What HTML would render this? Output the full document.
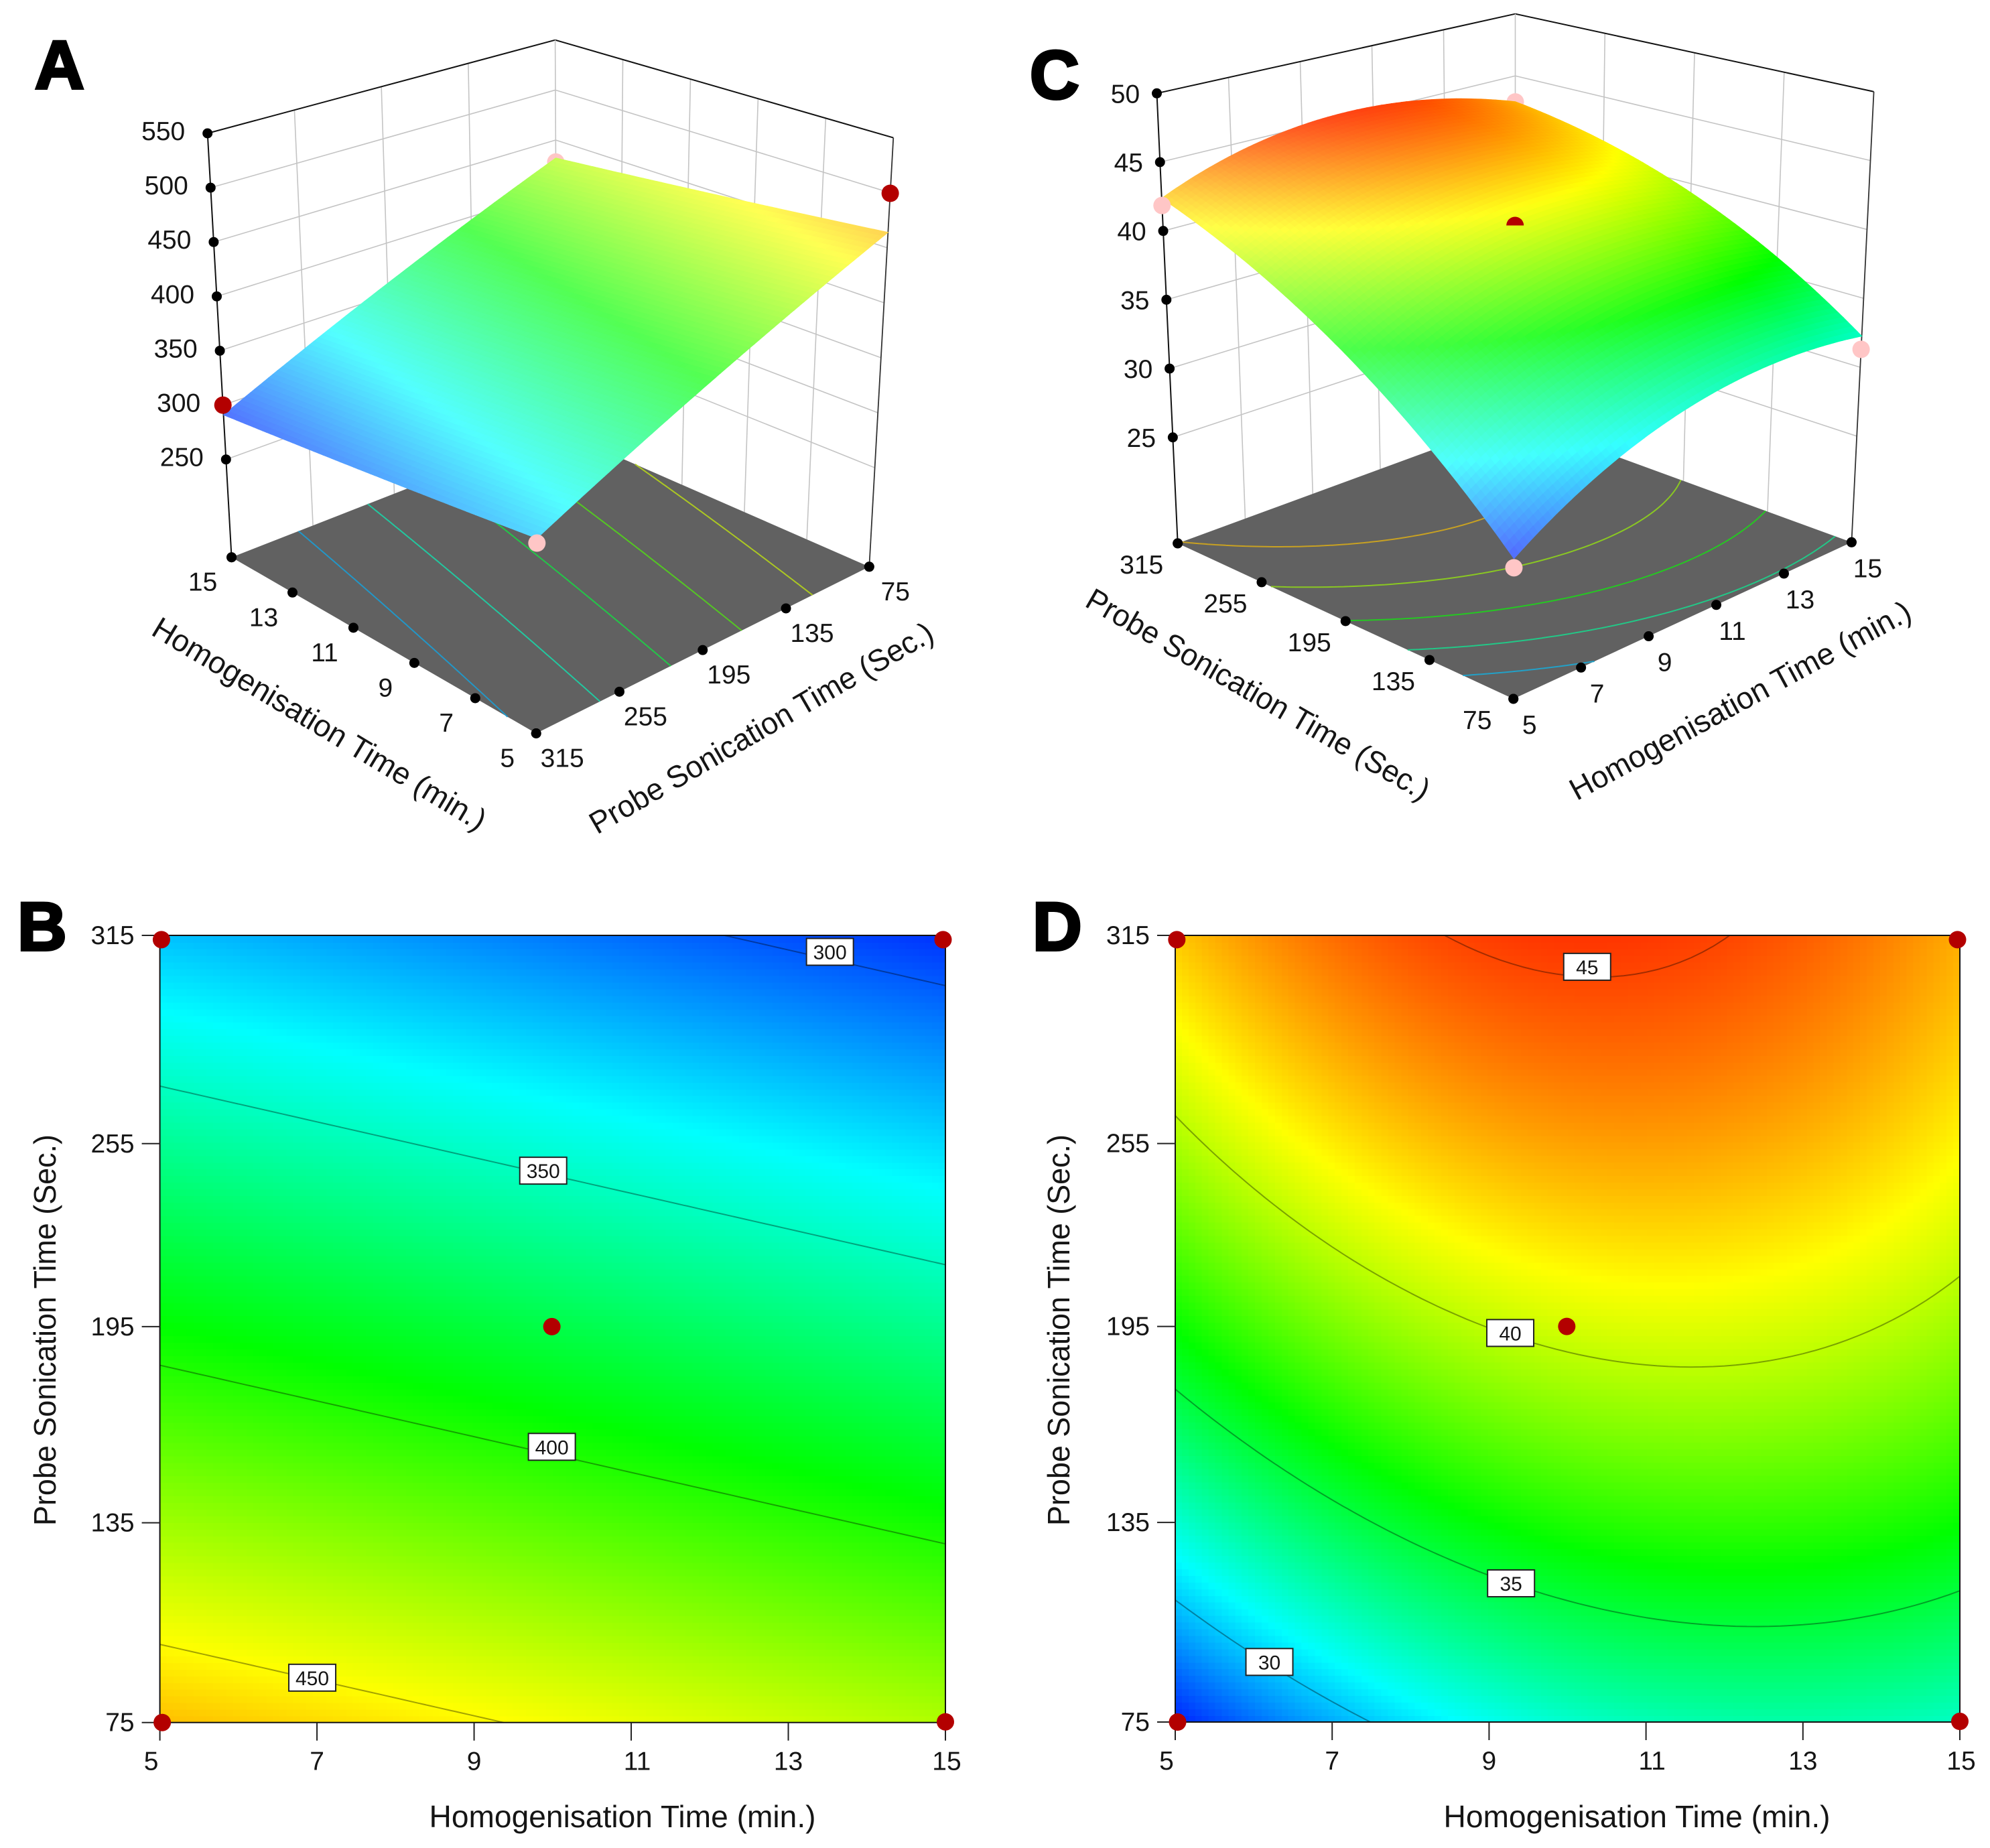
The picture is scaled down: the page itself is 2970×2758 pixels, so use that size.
<!DOCTYPE html>
<html lang="en">
<head>
<meta charset="utf-8">
<title>Response surface and contour plots</title>
<style>
html,body{margin:0;padding:0;background:#fff}
svg{display:block}
text{font-family:"Liberation Sans",Arial,sans-serif;fill:#151515}
.title{font-size:46px}
.tick{font-size:39px}
.letter{font-size:102px;font-weight:bold;fill:#000;stroke:#000;stroke-width:4px}
</style>
</head>
<body>
<svg id="figure" xmlns="http://www.w3.org/2000/svg" width="2970" height="2758" viewBox="0 0 2970 2758">
  <rect x="0" y="0" width="2970" height="2758" fill="#fff"/>
  <g id="panelA"></g>
  <g id="panelB"></g>
  <g id="panelC"></g>
  <g id="panelD"></g>

  <text class="letter" x="52" y="132">A</text>
  <text class="letter" x="26" y="1418">B</text>
  <text class="letter" x="1537" y="147">C</text>
  <text class="letter" x="1541" y="1418">D</text>

  <text class="title" text-anchor="middle" textLength="572" lengthAdjust="spacingAndGlyphs" transform="translate(477,1080) rotate(31)" dy="16">Homogenisation Time (min.)</text>
  <text class="title" text-anchor="middle" textLength="584" lengthAdjust="spacingAndGlyphs" transform="translate(1136,1086) rotate(-30)" dy="16">Probe Sonication Time (Sec.)</text>
  <text class="title" text-anchor="middle" textLength="584" lengthAdjust="spacingAndGlyphs" transform="translate(1878,1036) rotate(30)" dy="16">Probe Sonication Time (Sec.)</text>
  <text class="title" text-anchor="middle" textLength="572" lengthAdjust="spacingAndGlyphs" transform="translate(2597,1045) rotate(-28.5)" dy="16">Homogenisation Time (min.)</text>

  <text class="title" text-anchor="middle" textLength="577" lengthAdjust="spacingAndGlyphs" x="929" y="2727">Homogenisation Time (min.)</text>
  <text class="title" text-anchor="middle" textLength="584" lengthAdjust="spacingAndGlyphs" transform="translate(83,1985) rotate(-90)">Probe Sonication Time (Sec.)</text>
  <text class="title" text-anchor="middle" textLength="577" lengthAdjust="spacingAndGlyphs" x="2443" y="2727">Homogenisation Time (min.)</text>
  <text class="title" text-anchor="middle" textLength="584" lengthAdjust="spacingAndGlyphs" transform="translate(1596,1985) rotate(-90)">Probe Sonication Time (Sec.)</text>
</svg>

<script>
/* ---- data ---- */
var gridH = [5, 10, 15];
var gridP = [75, 195, 315];

/* particle-size style response (panels A, B): one row per probe time */
var sizeAtP75  = [464, 448, 432];
var sizeAtP195 = [393.5, 377.5, 361.5];
var sizeAtP315 = [323, 307, 291];

/* second response (panels C, D): one row per probe time */
var secondAtP75  = [26.65, 32.07, 32.26];
var secondAtP195 = [36.25, 40.4, 39.32];
var secondAtP315 = [42.38, 45.35, 42.92];

var homogTicks = [5, 7, 9, 11, 13, 15];
var probeTicks = [75, 135, 195, 255, 315];
var probeTickLabels = ['75', '135', '195', '255', '315'];
var probeTickAt2D = [75, 135.9, 195.7, 251.5, 315];

var zTicksA = [250, 300, 350, 400, 450, 500, 550];
var zTicksC = [25, 30, 35, 40, 45, 50];
var zRangeA = [160, 550];
var zRangeC = [17.3, 50];
var colorRangeA = [280, 506];
var colorRangeC = [26, 46.4];

var floorLevelsA = [320, 350, 380, 410, 440];
var floorLevelsC = [29.9, 33.1, 36.3, 39.4, 42.5];
var contourLevelsB = [300, 350, 400, 450];
var contourLabelHB = [13.53, 9.88, 9.99, 6.94];
var contourLabelLiftB = [2.3, 0.8, 2.3, 0.4];
var contourLevelsD = [30, 35, 40, 45];
var contourLabelHD = [6.2, 9.28, 9.27, 10.25];
var contourLabelLiftD = [0.8, 0, 0.8, 3.1];

/* design points in 3D panels */
var pointsHA = [15, 15, 5, 5];
var pointsPA = [75, 315, 75, 315];
var pointsZA = [428, 300, 499.5, 319];
var pointsOnTopA = ['behind', 'front', 'front', 'front'];
var pointsHC = [15, 5, 15, 5, 10];
var pointsPC = [315, 315, 75, 75, 195];
var pointsZC = [42.9, 41.85, 31.3, 26.04, 41];
var pointsOnTopC = ['behind', 'front', 'front', 'front', 'half'];

/* design points in 2D panels */
var pointsH2D = [5.02, 14.97, 5.03, 15, 9.99];
var pointsP2D = [313.7, 313.7, 75, 75.2, 195.7];

/* ---- helpers ---- */
var NS = 'http://www.w3.org/2000/svg';
function make(parent, tag, attrs) {
  var el = document.createElementNS(NS, tag);
  for (var k in attrs) { el.setAttribute(k, attrs[k]); }
  parent.appendChild(el);
  return el;
}
function lagrange(knots, x) {
  var w = [];
  for (var i = 0; i < knots.length; i++) {
    var v = 1;
    for (var j = 0; j < knots.length; j++) {
      if (j !== i) { v *= (x - knots[j]) / (knots[i] - knots[j]); }
    }
    w.push(v);
  }
  return w;
}
function surfaceFrom(rows) {
  return function (h, p) {
    var wh = lagrange(gridH, h), wp = lagrange(gridP, p), z = 0;
    for (var r = 0; r < rows.length; r++) {
      for (var c = 0; c < gridH.length; c++) { z += wp[r] * wh[c] * rows[r][c]; }
    }
    return z;
  };
}
var sizeSurface = surfaceFrom([sizeAtP75, sizeAtP195, sizeAtP315]);
var secondSurface = surfaceFrom([secondAtP75, secondAtP195, secondAtP315]);

var RAMP = [[0, 0, 255], [0, 255, 255], [0, 255, 0], [255, 255, 0], [255, 0, 0]];
function rampColor(z, range) {
  var t = (z - range[0]) / (range[1] - range[0]) * 4;
  t = Math.max(0, Math.min(3.9999, t));
  var i = Math.floor(t), f = t - i, a = RAMP[i], b = RAMP[i + 1];
  return [a[0] + (b[0] - a[0]) * f, a[1] + (b[1] - a[1]) * f, a[2] + (b[2] - a[2]) * f];
}
function rgb(c) {
  return 'rgb(' + Math.round(c[0]) + ',' + Math.round(c[1]) + ',' + Math.round(c[2]) + ')';
}
function mix(c, target, k) {
  return [c[0] + (target[0] - c[0]) * k, c[1] + (target[1] - c[1]) * k, c[2] + (target[2] - c[2]) * k];
}
function contourPath(fn, level, project) {
  var n = 70, d = [];
  function val(i, j) { return fn(5 + 10 * i / n, 75 + 240 * j / n); }
  for (var i = 0; i < n; i++) {
    for (var j = 0; j < n; j++) {
      var corners = [[i, j], [i + 1, j], [i + 1, j + 1], [i, j + 1]];
      var pts = [];
      for (var e = 0; e < 4; e++) {
        var a = corners[e], b = corners[(e + 1) % 4];
        var va = val(a[0], a[1]) - level, vb = val(b[0], b[1]) - level;
        if ((va < 0) !== (vb < 0)) {
          var f = va / (va - vb);
          var ci = a[0] + (b[0] - a[0]) * f, cj = a[1] + (b[1] - a[1]) * f;
          pts.push(project(5 + 10 * ci / n, 75 + 240 * cj / n));
        }
      }
      for (var k = 0; k + 1 < pts.length; k += 2) {
        d.push('M' + pts[k][0].toFixed(1) + ' ' + pts[k][1].toFixed(1) + 'L' + pts[k + 1][0].toFixed(1) + ' ' + pts[k + 1][1].toFixed(1));
      }
    }
  }
  return d.join('');
}

/* ---- 2D contour panel ---- */
function drawContourPanel(cfg) {
  var g = document.getElementById(cfg.id);
  function xs(h) { return cfg.left + (h - 5) / 10 * (cfg.right - cfg.left); }
  function ys(p) { return cfg.bottom - (p - 75) / 240 * (cfg.bottom - cfg.top); }
  var n = 118;
  var cells = make(g, 'g', { 'shape-rendering': 'crispEdges' });
  
  
  for (var i = 0; i < n; i++) {
    for (var j = 0; j < n; j++) {
      var h0 = 5 + 10 * i / n, h1 = 5 + 10 * (i + 1) / n;
      var p0 = 75 + 240 * j / n, p1 = 75 + 240 * (j + 1) / n;
      var z = cfg.fn((h0 + h1) / 2, (p0 + p1) / 2);
      var cell = make(cells, 'rect', {
        x: xs(h0).toFixed(2), y: ys(p1).toFixed(2),
        width: (xs(h1) - xs(h0) + 0.8).toFixed(2), height: (ys(p0) - ys(p1) + 0.8).toFixed(2),
        fill: rgb(rampColor(z, cfg.colors))
      });
      
      
    }
  }
  cfg.levels.forEach(function (level) {
    var line = make(g, 'path', {
      d: contourPath(cfg.fn, level, function (h, p) { return [xs(h), ys(p)]; }),
      fill: 'none', stroke: '#000', 'stroke-opacity': 0.36, 'stroke-width': 2
    });
    
    
  });
  var frame = make(g, 'rect', {
    x: cfg.left, y: cfg.top, width: cfg.right - cfg.left, height: cfg.bottom - cfg.top,
    fill: 'none', stroke: '#111', 'stroke-width': 2
  });
  
  

  homogTicks.forEach(function (h) {
    var tick = make(g, 'line', { x1: xs(h), x2: xs(h), y1: cfg.bottom, y2: cfg.bottom + 27, stroke: '#222', 'stroke-width': 2 });
    
    
    var nudge = h === 5 ? -13 : (h === 11 ? 9 : (h === 15 ? 2 : 0));
    var label = make(g, 'text', { x: xs(h) + nudge, y: cfg.bottom + 71, 'class': 'tick', 'text-anchor': 'middle' });
    label.textContent = String(h);
    
    
  });
  probeTickAt2D.forEach(function (p, idx) {
    var tick = make(g, 'line', { x1: cfg.left - 27, x2: cfg.left, y1: ys(p), y2: ys(p), stroke: '#222', 'stroke-width': 2 });
    
    
    var label = make(g, 'text', { x: cfg.left - 38, y: ys(p) + 13, 'class': 'tick', 'text-anchor': 'end' });
    label.textContent = probeTickLabels[idx];
    
    
  });

  cfg.levels.forEach(function (level, idx) {
    var h = cfg.labelH[idx], lo = 75, hi = 315;
    var rising = cfg.fn(h, 315) > cfg.fn(h, 75);
    for (var it = 0; it < 40; it++) {
      var mid = (lo + hi) / 2;
      if ((cfg.fn(h, mid) < level) === rising) { lo = mid; } else { hi = mid; }
    }
    var cx = xs(h), cy = ys((lo + hi) / 2 + cfg.labelLift[idx]);
    var box = make(g, 'rect', { x: cx - 35, y: cy - 20, width: 70, height: 40, fill: '#fff', stroke: '#222', 'stroke-width': 2 });
    
    
    var txt = make(g, 'text', { x: cx, y: cy + 11, 'text-anchor': 'middle', 'font-size': 30 });
    txt.textContent = String(level);
    
    
  });

  pointsH2D.forEach(function (h, idx) {
    var dot = make(g, 'circle', { cx: xs(h), cy: ys(pointsP2D[idx]), r: 13, fill: '#b30000' });
    
    
  });
}

/* ---- 3D surface panel ---- */
function drawSurfacePanel(cfg) {
  var g = document.getElementById(cfg.id);
  function bil(c, s, t) {
    var x = (1 - s) * (1 - t) * c[0][0][0] + (1 - s) * t * c[0][1][0] + s * (1 - t) * c[1][0][0] + s * t * c[1][1][0];
    var y = (1 - s) * (1 - t) * c[0][0][1] + (1 - s) * t * c[0][1][1] + s * (1 - t) * c[1][0][1] + s * t * c[1][1][1];
    return [x, y];
  }
  function zn(z) { return (z - cfg.zRange[0]) / (cfg.zRange[1] - cfg.zRange[0]); }
  function boxPoint(s, t, n) {
    var f = bil(cfg.floor, s, t), u = bil(cfg.top, s, t);
    return [f[0] + (u[0] - f[0]) * n, f[1] + (u[1] - f[1]) * n];
  }
  function sOf(h) { return (h - 5) / 10; }
  function tOf(p) { return (p - 75) / 240; }
  function project(h, p, z) { return boxPoint(sOf(h), tOf(p), zn(z)); }
  function seg(a, b, stroke, width, name) {
    var el = make(g, 'line', { x1: a[0], y1: a[1], x2: b[0], y2: b[1], stroke: stroke, 'stroke-width': width });
    
    
    return el;
  }

  /* wall grid */
  cfg.walls.forEach(function (wall) {
    function wp(v, n) { return wall.axis === 's' ? boxPoint(wall.fixed, tOf(v), n) : boxPoint(sOf(v), wall.fixed, n); }
    var ticks = wall.axis === 's' ? probeTicks : homogTicks;
    ticks.forEach(function (v, i) {
      if (i === 0 || i === ticks.length - 1) { return; }
      seg(wp(v, 0), wp(v, 1), '#c4c4c4', 1.6, 'wall-gridline');
    });
    cfg.zTicks.forEach(function (z) {
      if (zn(z) >= 0.999) { return; }
      seg(wp(ticks[0], zn(z)), wp(ticks[ticks.length - 1], zn(z)), '#c4c4c4', 1.6, 'wall-gridline');
    });
    seg(wp(ticks[0], 1), wp(ticks[ticks.length - 1], 1), '#111', 2, 'wall-top-edge');
  });
  seg(boxPoint(cfg.back[0], cfg.back[1], 0), boxPoint(cfg.back[0], cfg.back[1], 1), '#c4c4c4', 1.6, 'back-vertical-edge');
  seg(boxPoint(cfg.right[0], cfg.right[1], 0), boxPoint(cfg.right[0], cfg.right[1], 1), '#333', 1.8, 'right-vertical-edge');
  seg(boxPoint(cfg.left[0], cfg.left[1], 0), boxPoint(cfg.left[0], cfg.left[1], 1), '#111', 2, 'z-axis-line');

  /* floor */
  var fl = cfg.floor;
  var floorPoly = make(g, 'polygon', {
    points: [fl[0][0], fl[0][1], fl[1][1], fl[1][0]].map(function (p) { return p[0] + ',' + p[1]; }).join(' '),
    fill: '#616161'
  });
  
  
  cfg.floorLevels.forEach(function (level) {
    var c = mix(rampColor(level, cfg.colors), [97, 97, 97], 0.35);
    var line = make(g, 'path', {
      d: contourPath(cfg.fn, level, function (h, p) { return bil(cfg.floor, sOf(h), tOf(p)); }),
      fill: 'none', stroke: rgb(c), 'stroke-width': 2
    });
    
    
  });

  /* axis ticks */
  homogTicks.forEach(function (h) {
    var p = bil(cfg.floor, sOf(h), cfg.homogAxisT);
    var dot = make(g, 'circle', { cx: p[0], cy: p[1], r: 7.5, fill: '#000' });
    
    
    var label = make(g, 'text', { x: p[0] + cfg.homogOffset[0], y: p[1] + cfg.homogOffset[1] + 14, 'class': 'tick', 'text-anchor': 'middle' });
    label.textContent = String(h);
    
    
  });
  probeTicks.forEach(function (v, i) {
    var p = bil(cfg.floor, 0, tOf(v));
    var dot = make(g, 'circle', { cx: p[0], cy: p[1], r: 7.5, fill: '#000' });
    
    
    var label = make(g, 'text', { x: p[0] + cfg.probeOffset[0], y: p[1] + cfg.probeOffset[1] + 14, 'class': 'tick', 'text-anchor': 'middle' });
    label.textContent = probeTickLabels[i];
    
    
  });
  var cornerDot = bil(cfg.floor, cfg.left[0], cfg.left[1]);
  var baseDot = make(g, 'circle', { cx: cornerDot[0], cy: cornerDot[1], r: 7.5, fill: '#000' });
  
  
  var farDot = bil(cfg.floor, cfg.right[0], cfg.right[1]);
  var rightDot = make(g, 'circle', { cx: farDot[0], cy: farDot[1], r: 7.5, fill: '#000' });
  
  
  cfg.zTicks.forEach(function (z) {
    var p = boxPoint(cfg.left[0], cfg.left[1], zn(z));
    var dot = make(g, 'circle', { cx: p[0], cy: p[1], r: 7.5, fill: '#000' });
    
    
    var label = make(g, 'text', { x: p[0] + cfg.zOffset[0], y: p[1] + cfg.zOffset[1] + 14, 'class': 'tick', 'text-anchor': 'middle' });
    label.textContent = String(z);
    
    
  });

  function drawPoint(i, kind) {
    var p = project(cfg.pointsH[i], cfg.pointsP[i], cfg.pointsZ[i]);
    var color = cfg.redPoints.indexOf(i) >= 0 ? '#b30000' : '#ffc6c6';
    var el;
    if (kind === 'half') {
      el = make(g, 'path', {
        d: 'M' + (p[0] - 13) + ' ' + p[1] + 'A13 13 0 0 1 ' + (p[0] + 13) + ' ' + p[1] + 'Z',
        fill: color
      });
    } else {
      el = make(g, 'circle', { cx: p[0], cy: p[1], r: 13, fill: color });
    }
    
    
  }
  cfg.pointOrder.forEach(function (kind, i) { if (kind === 'behind') { drawPoint(i, kind); } });

  /* surface, far cells first */
  var n = 72;
  var surface = make(g, 'g', {});
  
  
  var span = cfg.zRange[1] - cfg.zRange[0];
  function H(s) { return 5 + 10 * s; }
  function P(t) { return 75 + 240 * t; }
  for (var a = 0; a < n; a++) {
    var i = cfg.back[0] === 1 ? n - 1 - a : a;
    for (var b = 0; b < n; b++) {
      var j = cfg.back[1] === 1 ? n - 1 - b : b;
      var s0 = i / n, s1 = (i + 1) / n, t0 = j / n, t1 = (j + 1) / n;
      var z00 = cfg.fn(H(s0), P(t0)), z01 = cfg.fn(H(s0), P(t1));
      var z10 = cfg.fn(H(s1), P(t0)), z11 = cfg.fn(H(s1), P(t1));
      var gs = ((z10 + z11) - (z00 + z01)) / 2 / (1 / n) / span;
      var gt = ((z01 + z11) - (z00 + z10)) / 2 / (1 / n) / span;
      var lr = cfg.lrDir[0] * gs + cfg.lrDir[1] * gt;
      var fb = cfg.fbDir[0] * gs + cfg.fbDir[1] * gt;
      var lift = Math.max(0, Math.min(0.5, 0.1 + 0.35 * lr + 0.25 * fb));
      var col = rgb(mix(rampColor((z00 + z01 + z10 + z11) / 4, cfg.colors), [255, 255, 255], lift));
      var pts = [boxPoint(s0, t0, zn(z00)), boxPoint(s0, t1, zn(z01)), boxPoint(s1, t1, zn(z11)), boxPoint(s1, t0, zn(z10))];
      var quad = make(surface, 'polygon', {
        points: pts.map(function (q) { return q[0].toFixed(1) + ',' + q[1].toFixed(1); }).join(' '),
        fill: col, stroke: col, 'stroke-width': 1
      });
      
      
    }
  }
  cfg.pointOrder.forEach(function (kind, i) { if (kind !== 'behind') { drawPoint(i, kind); } });
}

drawContourPanel({ id: 'panelB', prefix: 'b', fn: sizeSurface, colors: colorRangeA,
  left: 238.6, right: 1411, top: 1396, bottom: 2570.7,
  levels: contourLevelsB, labelH: contourLabelHB, labelLift: contourLabelLiftB });
drawContourPanel({ id: 'panelD', prefix: 'd', fn: secondSurface, colors: colorRangeC,
  left: 1754, right: 2925, top: 1396, bottom: 2570,
  levels: contourLevelsD, labelH: contourLabelHD, labelLift: contourLabelLiftD });

drawSurfacePanel({ id: 'panelA', fn: sizeSurface, colors: colorRangeA, zRange: zRangeA, zTicks: zTicksA,
  floor: [[[1297.3, 845.8], [800.2, 1094.5]], [[831.4, 641.8], [345.6, 831.7]]],
  top: [[[1333.3, 205.6], [803, 398]], [[828.6, 59.7], [309.7, 199]]],
  left: [1, 1], right: [0, 0], back: [1, 0],
  walls: [{ axis: 's', fixed: 1 }, { axis: 't', fixed: 0 }],
  homogAxisT: 1, homogOffset: [-43, 36], probeOffset: [39, 36], zOffset: [-66, -4],
  floorLevels: floorLevelsA, lrDir: [-1, -1], fbDir: [1, -1],
  pointsH: pointsHA, pointsP: pointsPA, pointsZ: pointsZA, pointOrder: pointsOnTopA, redPoints: [1, 2] });

drawSurfacePanel({ id: 'panelC', fn: secondSurface, colors: colorRangeC, zRange: zRangeC, zTicks: zTicksC,
  floor: [[[2258.7, 1043], [1757.7, 810.9]], [[2763.4, 809.3], [2261.5, 626]]],
  top: [[[2261.5, 311], [1726.5, 139.3]], [[2796.6, 136.8], [2261.5, 20.7]]],
  left: [0, 1], right: [1, 0], back: [1, 1],
  walls: [{ axis: 't', fixed: 1 }, { axis: 's', fixed: 1 }],
  homogAxisT: 0, homogOffset: [24, 38], probeOffset: [-54, 31], zOffset: [-47, 0],
  floorLevels: floorLevelsC, lrDir: [1, -1], fbDir: [1, 1],
  pointsH: pointsHC, pointsP: pointsPC, pointsZ: pointsZC, pointOrder: pointsOnTopC, redPoints: [4] });
</script>
</body>
</html>
